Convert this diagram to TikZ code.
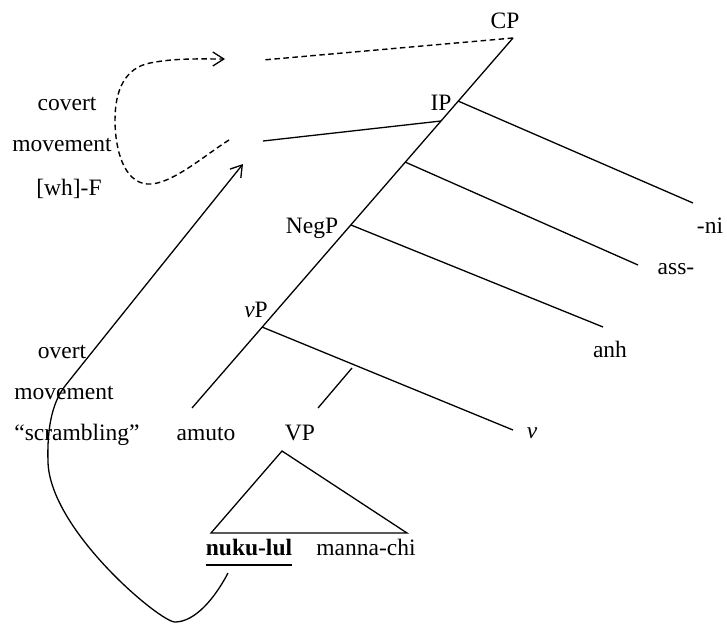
\documentclass[tikz,border=0pt]{standalone}
\usepackage{fontspec}
\setmainfont{Liberation Serif}
\usetikzlibrary{arrows.meta}
\begin{document}
\begin{tikzpicture}[x=1pt,y=-1pt,
  every node/.style={inner sep=0pt, anchor=base, font=\fontsize{23.5}{28}\selectfont},
  branch/.style={line width=1.3pt},
  movearrow/.style={line width=1.3pt, -{Straight Barb[length=11pt,width=14pt,line width=1.3pt]}},
  covertarrow/.style={line width=1.4pt, dash pattern=on 5.5pt off 3.5pt, -{Straight Barb[length=11pt,width=14pt,line width=1.3pt]}},
  covertline/.style={line width=1.4pt, dash pattern=on 5.5pt off 3.5pt}]
\useasboundingbox (0,0) rectangle (727,624);

% labels
\node (CP) at (505,28) {CP};
\node (IP) at (441,110) {IP};
\node (NegP) at (312,233) {NegP};
\node (vP) at (256,317) {\textit{v}P};
\node (ni) at (710,233) {-ni};
\node (ass) at (676,274) {ass-};
\node (anh) at (610,357) {anh};
\node (v) at (532,438) {\textit{v}};
\node (amuto) at (206,440) {amuto};
\node (VP) at (300,440) {VP};
\node (nuku) at (249,555) {\textbf{nuku-lul}};
\node (manna) at (366,555) {manna-chi};
\node (covert) at (67,110) {covert};
\node (movA) at (62,151) {movement};
\node (whF) at (69,195) {[wh]-F};
\node (overt) at (62,358) {overt};
\node (movB) at (64,399) {movement};
\node (scr) at (77,440) {``scrambling''};

% underline
\draw[line width=2.2pt] ([yshift=-10pt]nuku.base west) -- ([yshift=-10pt]nuku.base east);

% tree coordinates
\coordinate (cpTop) at (513,38);
\coordinate (spBot) at (192,408);
\coordinate (jIP) at (458,101);
\coordinate (jSpec) at (441,121);
\coordinate (jAss) at (405,162);
\coordinate (jNeg) at (351,225);
\coordinate (jvP) at (262,327);
\coordinate (eNi) at (693,203);
\coordinate (eAss) at (638,265);
\coordinate (eAnh) at (603,327);
\coordinate (eV) at (513,430);
\coordinate (vpTop) at (352,368);
\coordinate (vpBot) at (318,408);
\coordinate (specEnd) at (263,141);
\coordinate (cpEnd) at (263,60);
\coordinate (triTop) at (282,451);
\coordinate (triL) at (211,533);
\coordinate (triR) at (407,533);

% tree
\draw[branch] (cpTop) -- (spBot);
\draw[branch] (jIP) -- (eNi);
\draw[branch] (jAss) -- (eAss);
\draw[branch] (jNeg) -- (eAnh);
\draw[branch] (jvP) -- (eV);
\draw[branch] (vpTop) -- (vpBot);
\draw[branch] (jSpec) -- (specEnd);
\draw[covertline] (cpTop) -- (cpEnd);
\draw[branch, line join=miter] (triTop) -- (triL) -- (triR) -- cycle;

% overt movement
\coordinate (ovStart) at (228,573);
\coordinate (ovTip) at (243,164);
\draw[movearrow] (ovStart) .. controls (215,598) and (195,622) .. (175,622)
  .. controls (160,622) and (50,530) .. (48,462)
  .. controls (47,432) and (51,404) .. (65,386)
  .. controls (120,317) and (190,230) .. (ovTip);

% covert movement
\coordinate (cvStart) at (229,140);
\coordinate (cvTip) at (225,59);
\draw[covertarrow] (cvStart) .. controls (205,155) and (170,186) .. (147,184)
  .. controls (124,182) and (115,150) .. (115,120)
  .. controls (115,90) and (125,68) .. (150,63)
  .. controls (175,58) and (200,59) .. (cvTip);
\end{tikzpicture}
\end{document}
